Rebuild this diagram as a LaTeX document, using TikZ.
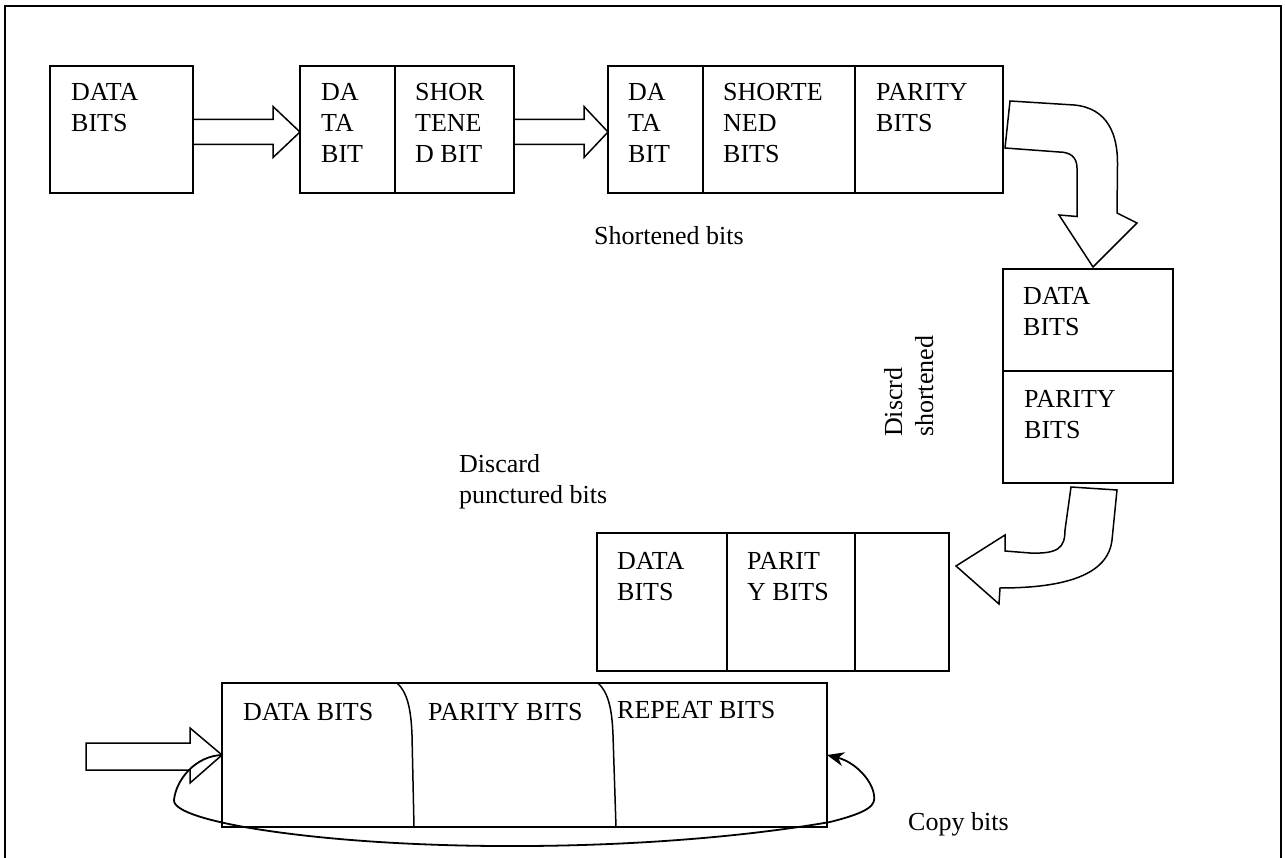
\documentclass[tikz,border=0pt]{standalone}
\usepackage{fontspec}
\setmainfont{Liberation Serif}
\usetikzlibrary{calc,arrows.meta}
\tikzset{
  cell/.style={draw,line width=1.6pt,inner sep=0pt,outer sep=0pt,anchor=north west},
  txt/.style={anchor=base west,inner sep=0pt,align=left,font=\fontsize{26}{31}\selectfont},
  blk/.style={draw,line width=1.5pt,fill=white,line join=miter},
  frame/.style={draw,line width=2.2pt},
  divider/.style={draw,line width=1.5pt},
  loopline/.style={draw,line width=1.8pt,-{Stealth[length=17pt,width=14pt]}}
}
\begin{document}
\begin{tikzpicture}[x=1pt,y=-1pt]
\useasboundingbox (0,0) rectangle (1285,858);
% outer frame
\draw[frame] (5,858) -- (5,6) -- (1281,6) -- (1281,858);

% row 1
\node[cell,minimum width=143pt,minimum height=127pt] (b1) at (50,66) {};
\node[cell,minimum width=95pt,minimum height=127pt] (b2a) at (300,66) {};
\node[cell,minimum width=119pt,minimum height=127pt] (b2b) at (395,66) {};
\node[cell,minimum width=95pt,minimum height=127pt] (b3a) at (608,66) {};
\node[cell,minimum width=152pt,minimum height=127pt] (b3b) at (703,66) {};
\node[cell,minimum width=148pt,minimum height=127pt] (b3c) at (855,66) {};

% (base west of a multi-line node = baseline of its last line)
\node[txt] (t1) at (71,132) {DATA\\BITS};
\node[txt] (t2a) at (321,163) {DA\\TA\\BIT};
\node[txt] (t2b) at (415,163) {SHOR\\TENE\\D BIT};
\node[txt] (t3a) at (628,163) {DA\\TA\\BIT};
\node[txt] (t3b) at (723,163) {SHORTE\\NED\\BITS};
\node[txt] (t3c) at (876,132) {PARITY\\BITS};

% straight block arrows
\draw[blk] let \p1=(b1.east), \p2=(b2a.west) in
  (\x1,\y1+10pt) -- (\x2-27pt,\y1+10pt) -- (\x2-27pt,\y1+23pt) -- (\x2,\y1-2.5pt)
  -- (\x2-27pt,\y1-28pt) -- (\x2-27pt,\y1-15pt) -- (\x1,\y1-15pt) -- cycle;
\draw[blk] let \p1=(b2b.east), \p2=(b3a.west) in
  (\x1,\y1+10pt) -- (\x2-24pt,\y1+10pt) -- (\x2-24pt,\y1+23pt) -- (\x2,\y1-2.5pt)
  -- (\x2-24pt,\y1-28pt) -- (\x2-24pt,\y1-15pt) -- (\x1,\y1-15pt) -- cycle;

\node[txt] (sb) at (594,245) {Shortened bits};

% curved block arrow 1
\draw[blk] (1010,101) -- (1074,105) .. controls (1108,108) and (1118,135) .. (1117.5,165)
  -- (1117,213) -- (1137,223) -- (1093,267) -- (1059,215) -- (1077,216.5) -- (1077,168)
  .. controls (1077,157) and (1070,152) .. (1059,152) -- (1005,148) -- cycle;

% box 4
\node[cell,minimum width=170pt,minimum height=102pt] (b4a) at (1003,269) {};
\node[cell,minimum width=170pt,minimum height=112pt] (b4b) at (1003,371) {};
\node[txt] (t4a) at (1023,336) {DATA\\BITS};
\node[txt] (t4b) at (1024,438) {PARITY\\BITS};

\node[txt,rotate=90] (ds) at (933,437) {Discrd\\shortened};

% curved block arrow 2
\draw[blk] (1071,487) -- (1117,490) -- (1112,540) .. controls (1108,575) and (1065,588) .. (1000,588)
  -- (999,604) -- (956,566) -- (1005,535) -- (1005,551) -- (1030,553)
  .. controls (1058,554) and (1065,548) .. (1065,530) -- cycle;

\node[txt] (dp) at (459,503) {Discard\\punctured bits};

% box 5
\node[cell,minimum width=130pt,minimum height=138pt] (b5a) at (597,533) {};
\node[cell,minimum width=128pt,minimum height=138pt] (b5b) at (727,533) {};
\node[cell,minimum width=94pt,minimum height=138pt] (b5c) at (855,533) {};
\node[txt] (t5a) at (617,600) {DATA\\BITS};
\node[txt] (t5b) at (747,600) {PARIT\\Y BITS};

% box 6
\node[cell,minimum width=605pt,minimum height=144pt] (b6) at (222,683) {};
\draw[divider] (397,683) .. controls (407,692) and (411,708) .. (412,735) -- (414,827);
\draw[divider] (598,683) .. controls (608,692) and (612,708) .. (613,735) -- (616,827);
\node[txt] (t6a) at (243,720) {DATA BITS};
\node[txt] (t6b) at (428,720) {PARITY BITS};
\node[txt] (t6c) at (617,718) {REPEAT BITS};

% input arrow
\coordinate (in) at (86,755);
\draw[blk] let \p1=(in), \p2=(b6.west) in
  (\x1,\y2+12pt) -- (\x2-32pt,\y2+12pt) -- (\x2-32pt,\y2+27pt) -- (\x2,\y2)
  -- (\x2-32pt,\y2-28pt) -- (\x2-32pt,\y2-15pt) -- (\x1,\y2-15pt) -- cycle;

% copy loop
\draw[loopline] (b6.west) .. controls (195,756) and (176,780) .. (174,800)
  .. controls (173,812) and (215,822) .. (250,828)
  .. controls (400,853) and (650,853) .. (830,822)
  .. controls (870,812) and (876,805) .. (874,795)
  .. controls (872,780) and (855,762) .. (b6.east);
\node[txt] (cb) at (908,830) {Copy bits};
\end{tikzpicture}
\end{document}
